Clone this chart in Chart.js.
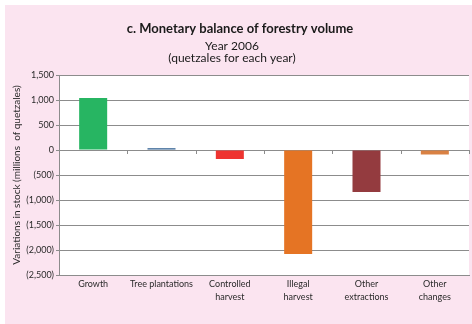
<!DOCTYPE html>
<html>
<head>
<meta charset="utf-8">
<script src="https://cdn.jsdelivr.net/npm/chart.js@4"></script>
<style>
    html, body { margin: 0; padding: 0; background: #fff; }
    #box { position: absolute; left: 5px; top: 5px; width: 467px; height: 319px; background: #fbe4f0; }
</style>
</head>
<body>
<div id="box"><canvas id="forestryChart" width="467" height="319"></canvas></div>
<script>
const categories = [
    "Growth",
    "Tree plantations",
    ["Controlled", "harvest"],
    ["Illegal", "harvest"],
    ["Other", "extractions"],
    ["Other", "changes"]
];
const balances = [1040, 35, -180, -2080, -840, -90];
const barColors = ['#27b562', '#2a5b8e', '#ee3430', '#e57424', '#943b3f', '#d98143'];

const titleLines = [
    { text: "c. Monetary balance of forestry volume", font: "bold 13px Lato", x: 235, y: 28 },
    { text: "Year 2006", font: "12px Lato", x: 227, y: 45 },
    { text: "(quetzales for each year)", font: "12px Lato", x: 227, y: 57 }
];

function formatTick(value) {
    const s = Math.abs(value).toLocaleString('en-US');
    return value < 0 ? `(${s})` : s;
}

const plotBackground = {
    id: 'plotBackground',
    beforeDraw(chart) {
        const { ctx, chartArea } = chart;
        ctx.save();
        ctx.fillStyle = '#ffffff';
        ctx.fillRect(chartArea.left, chartArea.top, chartArea.right - chartArea.left, chartArea.bottom - chartArea.top);
        ctx.restore();
    }
};

// category ticks on the zero line + headings
const extras = {
    id: 'extras',
    afterDraw(chart) {
        const { ctx } = chart;
        const x = chart.scales.x, y = chart.scales.y;
        const y0 = y.getPixelForValue(0);
        ctx.save();
        ctx.strokeStyle = '#8c8c8c';
        ctx.lineWidth = 1;
        ctx.beginPath();
        for (let i = 0; i <= categories.length; i++) {
            const px = Math.round(x.getPixelForValue(i - 0.5)) + 0.5;
            ctx.moveTo(px, y0);
            ctx.lineTo(px, y0 + 4);
        }
        ctx.stroke();

        ctx.fillStyle = '#1a1a1a';
        ctx.textAlign = 'center';
        ctx.textBaseline = 'alphabetic';
        for (const line of titleLines) {
            ctx.font = line.font;
            ctx.fillText(line.text, line.x, line.y);
        }
        ctx.restore();
    }
};

new Chart(
    document.getElementById("forestryChart"),
    {
        type: 'bar',
        data: {
            labels: categories,
            datasets: [{
                label: 'Variations in stock',
                data: balances,
                backgroundColor: barColors,
                barPercentage: 0.41,
                categoryPercentage: 1
            }]
        },
        options: {
            responsive: false,
            animation: false,
            layout: { padding: { top: 70, right: 3, left: 0, bottom: 0 } },
            plugins: {
                legend: { display: false },
                tooltip: { enabled: false }
            },
            scales: {
                x: {
                    grid: { display: false, drawTicks: false },
                    border: { color: '#8c8c8c' },
                    ticks: {
                        color: '#2a2a2a',
                        font: { family: 'Lato', size: 9, lineHeight: 1.4 },
                        maxRotation: 0,
                        autoSkip: false,
                        padding: 3
                    },
                    afterFit(scale) { scale.height = 49; }
                },
                y: {
                    min: -2500,
                    max: 1500,
                    grid: { color: '#8c8c8c', tickLength: 3, tickColor: '#8c8c8c' },
                    border: { color: '#8c8c8c' },
                    ticks: {
                        stepSize: 500,
                        color: '#2a2a2a',
                        font: { family: 'Lato', size: 9 },
                        padding: 2,
                        callback: formatTick
                    },
                    title: {
                        display: true,
                        text: 'Variations in stock (millions  of quetzales)',
                        color: '#2a2a2a',
                        font: { family: 'Lato', size: 10 },
                        padding: { top: 6, bottom: 0 }
                    },
                    afterFit(scale) { scale.width = 54; }
                }
            }
        },
        plugins: [plotBackground, extras]
    }
);
</script>
</body>
</html>
